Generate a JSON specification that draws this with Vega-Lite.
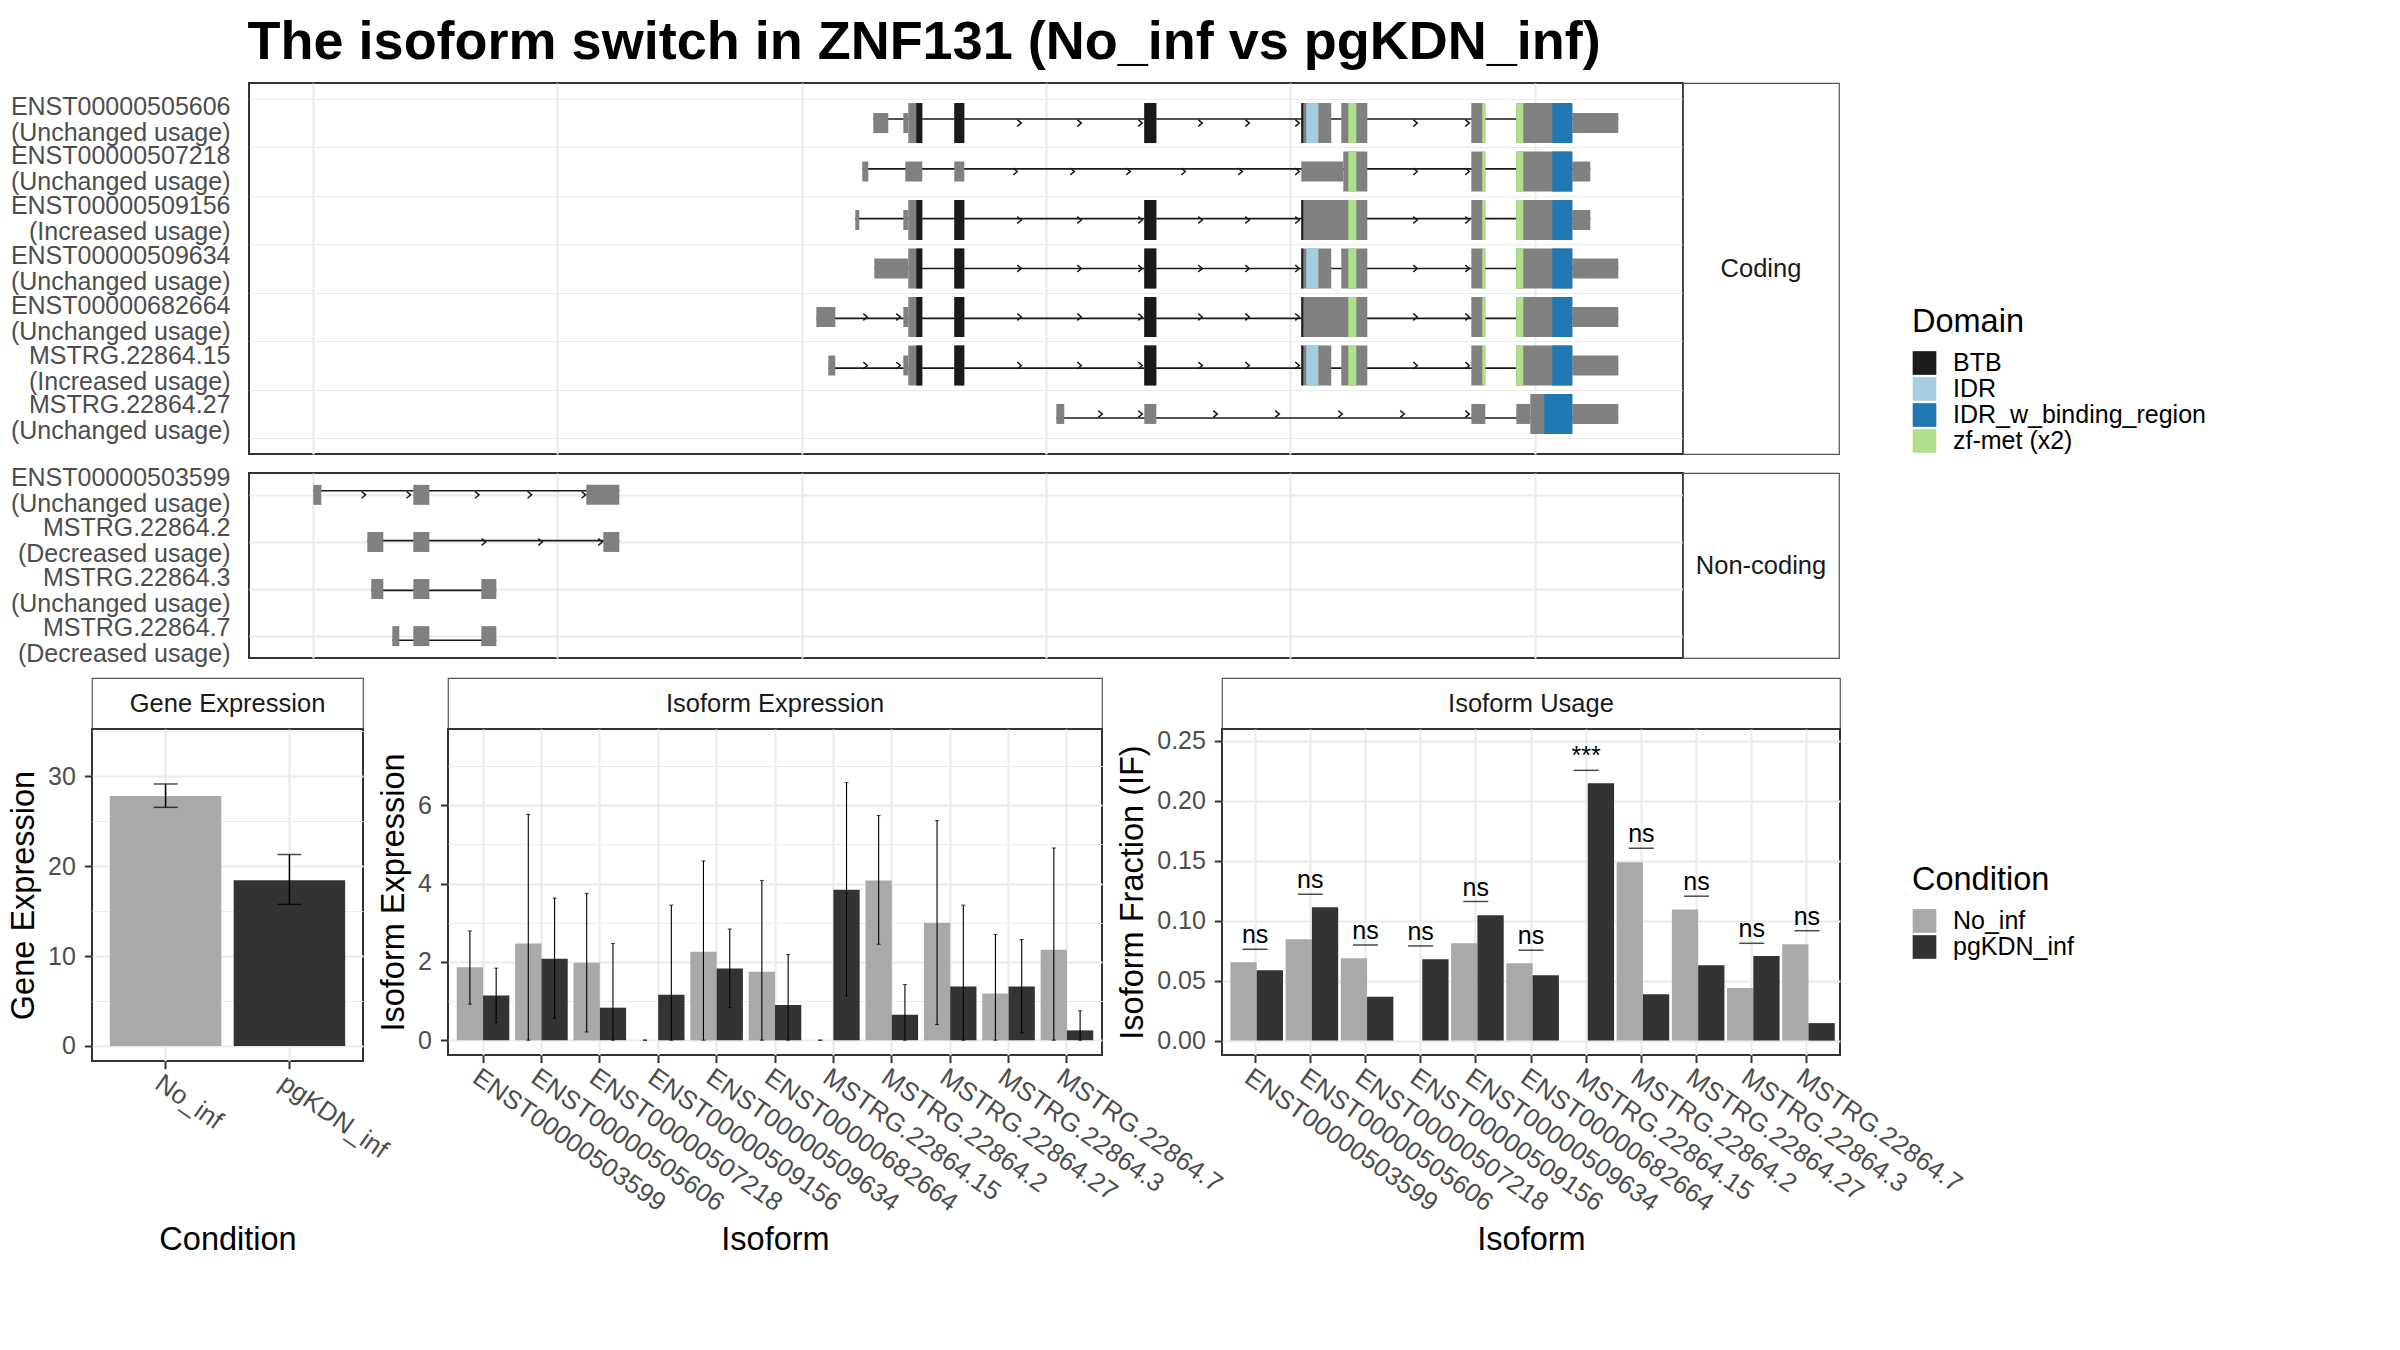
{
"$schema": "https://vega.github.io/schema/vega-lite/v6.json",
"background": "#ffffff",
"padding": {"left": 6, "top": 16, "right": 20, "bottom": 20},
"title": {"text": "The isoform switch in ZNF131 (No_inf vs pgKDN_inf)", "anchor": "start", "dx": 241, "offset": 12, "fontSize": 54, "fontWeight": "bold", "color": "#000000", "font": "Liberation Sans"},
"datasets": {
"txCoding": [
{"row":1,"label":"ENST00000505606 (Unchanged usage)","start":16468,"end":31704},
{"row":2,"label":"ENST00000507218 (Unchanged usage)","start":16243,"end":31131},
{"row":3,"label":"ENST00000509156 (Increased usage)","start":16100,"end":31131},
{"row":4,"label":"ENST00000509634 (Unchanged usage)","start":16489,"end":31704},
{"row":5,"label":"ENST00000682664 (Unchanged usage)","start":15303,"end":31704},
{"row":6,"label":"MSTRG.22864.15 (Increased usage)","start":15548,"end":31704},
{"row":7,"label":"MSTRG.22864.27 (Unchanged usage)","start":20211,"end":31704}
],
"txNoncoding": [
{"row":1,"label":"ENST00000503599 (Unchanged usage)","start":5016,"end":11274},
{"row":2,"label":"MSTRG.22864.2 (Decreased usage)","start":6121,"end":11274},
{"row":3,"label":"MSTRG.22864.3 (Unchanged usage)","start":6202,"end":8759},
{"row":4,"label":"MSTRG.22864.7 (Decreased usage)","start":6632,"end":8759}
],
"exCoding": [
{"row":1,"part":"UTR","start":16468,"end":16775},
{"row":1,"part":"UTR","start":17082,"end":17184},
{"row":1,"part":"CDS","start":17184,"end":17470},
{"row":1,"part":"CDS","start":18125,"end":18329},
{"row":1,"part":"CDS","start":22010,"end":22256},
{"row":1,"part":"CDS","start":25221,"end":25834},
{"row":1,"part":"CDS","start":26039,"end":26571},
{"row":1,"part":"CDS","start":28698,"end":28984},
{"row":1,"part":"CDS","start":29618,"end":30763},
{"row":1,"part":"UTR","start":30763,"end":31704},
{"row":2,"part":"UTR","start":16243,"end":16366},
{"row":2,"part":"UTR","start":17123,"end":17470},
{"row":2,"part":"UTR","start":18125,"end":18329},
{"row":2,"part":"UTR","start":25221,"end":26080},
{"row":2,"part":"CDS","start":26080,"end":26571},
{"row":2,"part":"CDS","start":28698,"end":28984},
{"row":2,"part":"CDS","start":29618,"end":30763},
{"row":2,"part":"UTR","start":30763,"end":31131},
{"row":3,"part":"UTR","start":16100,"end":16182},
{"row":3,"part":"UTR","start":17082,"end":17184},
{"row":3,"part":"CDS","start":17184,"end":17470},
{"row":3,"part":"CDS","start":18125,"end":18329},
{"row":3,"part":"CDS","start":22010,"end":22256},
{"row":3,"part":"CDS","start":25221,"end":26571},
{"row":3,"part":"CDS","start":28698,"end":28984},
{"row":3,"part":"CDS","start":29618,"end":30763},
{"row":3,"part":"UTR","start":30763,"end":31131},
{"row":4,"part":"UTR","start":16489,"end":17184},
{"row":4,"part":"CDS","start":17184,"end":17470},
{"row":4,"part":"CDS","start":18125,"end":18329},
{"row":4,"part":"CDS","start":22010,"end":22256},
{"row":4,"part":"CDS","start":25221,"end":25834},
{"row":4,"part":"CDS","start":26039,"end":26571},
{"row":4,"part":"CDS","start":28698,"end":28984},
{"row":4,"part":"CDS","start":29618,"end":30763},
{"row":4,"part":"UTR","start":30763,"end":31704},
{"row":5,"part":"UTR","start":15303,"end":15691},
{"row":5,"part":"UTR","start":17082,"end":17184},
{"row":5,"part":"CDS","start":17184,"end":17470},
{"row":5,"part":"CDS","start":18125,"end":18329},
{"row":5,"part":"CDS","start":22010,"end":22256},
{"row":5,"part":"CDS","start":25221,"end":26571},
{"row":5,"part":"CDS","start":28698,"end":28984},
{"row":5,"part":"CDS","start":29618,"end":30763},
{"row":5,"part":"UTR","start":30763,"end":31704},
{"row":6,"part":"UTR","start":15548,"end":15691},
{"row":6,"part":"UTR","start":17082,"end":17184},
{"row":6,"part":"CDS","start":17184,"end":17470},
{"row":6,"part":"CDS","start":18125,"end":18329},
{"row":6,"part":"CDS","start":22010,"end":22256},
{"row":6,"part":"CDS","start":25221,"end":25834},
{"row":6,"part":"CDS","start":26039,"end":26571},
{"row":6,"part":"CDS","start":28698,"end":28984},
{"row":6,"part":"CDS","start":29618,"end":30763},
{"row":6,"part":"UTR","start":30763,"end":31704},
{"row":7,"part":"UTR","start":20211,"end":20374},
{"row":7,"part":"UTR","start":22010,"end":22256},
{"row":7,"part":"UTR","start":28698,"end":28984},
{"row":7,"part":"UTR","start":29618,"end":29904},
{"row":7,"part":"CDS","start":29904,"end":30763},
{"row":7,"part":"UTR","start":30763,"end":31704}
],
"domCoding": [
{"row":1,"domain":"BTB","start":17348,"end":17470},
{"row":1,"domain":"BTB","start":18125,"end":18329},
{"row":1,"domain":"BTB","start":22010,"end":22256},
{"row":1,"domain":"BTB","start":25221,"end":25262},
{"row":1,"domain":"IDR","start":25323,"end":25569},
{"row":1,"domain":"zf-met (x2)","start":26182,"end":26346},
{"row":1,"domain":"zf-met (x2)","start":28922,"end":28984},
{"row":1,"domain":"zf-met (x2)","start":29618,"end":29761},
{"row":1,"domain":"IDR_w_binding_region","start":30354,"end":30763},
{"row":2,"domain":"zf-met (x2)","start":26182,"end":26346},
{"row":2,"domain":"zf-met (x2)","start":28922,"end":28984},
{"row":2,"domain":"zf-met (x2)","start":29618,"end":29761},
{"row":2,"domain":"IDR_w_binding_region","start":30354,"end":30763},
{"row":3,"domain":"BTB","start":17348,"end":17470},
{"row":3,"domain":"BTB","start":18125,"end":18329},
{"row":3,"domain":"BTB","start":22010,"end":22256},
{"row":3,"domain":"BTB","start":25221,"end":25262},
{"row":3,"domain":"zf-met (x2)","start":26182,"end":26346},
{"row":3,"domain":"zf-met (x2)","start":28922,"end":28984},
{"row":3,"domain":"zf-met (x2)","start":29618,"end":29761},
{"row":3,"domain":"IDR_w_binding_region","start":30354,"end":30763},
{"row":4,"domain":"BTB","start":17348,"end":17470},
{"row":4,"domain":"BTB","start":18125,"end":18329},
{"row":4,"domain":"BTB","start":22010,"end":22256},
{"row":4,"domain":"BTB","start":25221,"end":25262},
{"row":4,"domain":"IDR","start":25323,"end":25569},
{"row":4,"domain":"zf-met (x2)","start":26182,"end":26346},
{"row":4,"domain":"zf-met (x2)","start":28922,"end":28984},
{"row":4,"domain":"zf-met (x2)","start":29618,"end":29761},
{"row":4,"domain":"IDR_w_binding_region","start":30354,"end":30763},
{"row":5,"domain":"BTB","start":17348,"end":17470},
{"row":5,"domain":"BTB","start":18125,"end":18329},
{"row":5,"domain":"BTB","start":22010,"end":22256},
{"row":5,"domain":"BTB","start":25221,"end":25262},
{"row":5,"domain":"zf-met (x2)","start":26182,"end":26346},
{"row":5,"domain":"zf-met (x2)","start":28922,"end":28984},
{"row":5,"domain":"zf-met (x2)","start":29618,"end":29761},
{"row":5,"domain":"IDR_w_binding_region","start":30354,"end":30763},
{"row":6,"domain":"BTB","start":17348,"end":17470},
{"row":6,"domain":"BTB","start":18125,"end":18329},
{"row":6,"domain":"BTB","start":22010,"end":22256},
{"row":6,"domain":"BTB","start":25221,"end":25262},
{"row":6,"domain":"IDR","start":25323,"end":25569},
{"row":6,"domain":"zf-met (x2)","start":26182,"end":26346},
{"row":6,"domain":"zf-met (x2)","start":28922,"end":28984},
{"row":6,"domain":"zf-met (x2)","start":29618,"end":29761},
{"row":6,"domain":"IDR_w_binding_region","start":30354,"end":30763},
{"row":7,"domain":"IDR_w_binding_region","start":30190,"end":30763}
],
"arCoding": [
{"row":1,"pos":19495},{"row":1,"pos":20722},{"row":1,"pos":21969},{"row":1,"pos":23196},{"row":1,"pos":24158},{"row":1,"pos":25180},{"row":1,"pos":27593},{"row":1,"pos":28657},
{"row":2,"pos":19413},{"row":2,"pos":20579},{"row":2,"pos":21724},{"row":2,"pos":22849},{"row":2,"pos":24014},{"row":2,"pos":25180},{"row":2,"pos":27593},{"row":2,"pos":28657},
{"row":3,"pos":19495},{"row":3,"pos":20722},{"row":3,"pos":21969},{"row":3,"pos":23196},{"row":3,"pos":24158},{"row":3,"pos":25180},{"row":3,"pos":27593},{"row":3,"pos":28657},
{"row":4,"pos":19495},{"row":4,"pos":20722},{"row":4,"pos":21969},{"row":4,"pos":23196},{"row":4,"pos":24158},{"row":4,"pos":25180},{"row":4,"pos":27593},{"row":4,"pos":28657},
{"row":5,"pos":16346},{"row":5,"pos":17020},{"row":5,"pos":19495},{"row":5,"pos":20722},{"row":5,"pos":21969},{"row":5,"pos":23196},{"row":5,"pos":24158},{"row":5,"pos":25180},{"row":5,"pos":27593},{"row":5,"pos":28657},
{"row":6,"pos":16346},{"row":6,"pos":17020},{"row":6,"pos":19495},{"row":6,"pos":20722},{"row":6,"pos":21969},{"row":6,"pos":23196},{"row":6,"pos":24158},{"row":6,"pos":25180},{"row":6,"pos":27593},{"row":6,"pos":28657},
{"row":7,"pos":21151},{"row":7,"pos":21969},{"row":7,"pos":23503},{"row":7,"pos":24771},{"row":7,"pos":26059},{"row":7,"pos":27327},{"row":7,"pos":28657}
],
"exNoncoding": [
{"row":1,"start":5016,"end":5180},{"row":1,"start":7061,"end":7389},{"row":1,"start":10599,"end":11274},
{"row":2,"start":6121,"end":6448},{"row":2,"start":7061,"end":7389},{"row":2,"start":10947,"end":11274},
{"row":3,"start":6202,"end":6448},{"row":3,"start":7061,"end":7389},{"row":3,"start":8452,"end":8759},
{"row":4,"start":6632,"end":6775},{"row":4,"start":7061,"end":7389},{"row":4,"start":8452,"end":8759}
],
"arNoncoding": [
{"row":1,"pos":6086},{"row":1,"pos":7006},{"row":1,"pos":8405},{"row":1,"pos":9481},{"row":1,"pos":10585},
{"row":2,"pos":8540},{"row":2,"pos":9699},{"row":2,"pos":10926}
],
"gene": [
{"Condition":"No_inf","value":27.8,"lo":26.55,"hi":29.15},
{"Condition":"pgKDN_inf","value":18.45,"lo":15.75,"hi":21.3}
],
"iso": [
{"Isoform":"ENST00000503599","Condition":"No_inf","value":1.86,"lo":0.92,"hi":2.79},
{"Isoform":"ENST00000503599","Condition":"pgKDN_inf","value":1.14,"lo":0.45,"hi":1.84},
{"Isoform":"ENST00000505606","Condition":"No_inf","value":2.47,"lo":0,"hi":5.77},
{"Isoform":"ENST00000505606","Condition":"pgKDN_inf","value":2.08,"lo":0.56,"hi":3.63},
{"Isoform":"ENST00000507218","Condition":"No_inf","value":1.98,"lo":0.21,"hi":3.75},
{"Isoform":"ENST00000507218","Condition":"pgKDN_inf","value":0.83,"lo":0,"hi":2.47},
{"Isoform":"ENST00000509156","Condition":"No_inf","value":0,"lo":0,"hi":0},
{"Isoform":"ENST00000509156","Condition":"pgKDN_inf","value":1.16,"lo":0,"hi":3.45},
{"Isoform":"ENST00000509634","Condition":"No_inf","value":2.26,"lo":0,"hi":4.58},
{"Isoform":"ENST00000509634","Condition":"pgKDN_inf","value":1.83,"lo":0.83,"hi":2.84},
{"Isoform":"ENST00000682664","Condition":"No_inf","value":1.75,"lo":0,"hi":4.08},
{"Isoform":"ENST00000682664","Condition":"pgKDN_inf","value":0.9,"lo":0,"hi":2.19},
{"Isoform":"MSTRG.22864.15","Condition":"No_inf","value":0,"lo":0,"hi":0},
{"Isoform":"MSTRG.22864.15","Condition":"pgKDN_inf","value":3.84,"lo":1.13,"hi":6.58},
{"Isoform":"MSTRG.22864.2","Condition":"No_inf","value":4.08,"lo":2.45,"hi":5.74},
{"Isoform":"MSTRG.22864.2","Condition":"pgKDN_inf","value":0.65,"lo":0,"hi":1.42},
{"Isoform":"MSTRG.22864.27","Condition":"No_inf","value":3.0,"lo":0.4,"hi":5.61},
{"Isoform":"MSTRG.22864.27","Condition":"pgKDN_inf","value":1.37,"lo":0,"hi":3.45},
{"Isoform":"MSTRG.22864.3","Condition":"No_inf","value":1.19,"lo":0,"hi":2.7},
{"Isoform":"MSTRG.22864.3","Condition":"pgKDN_inf","value":1.37,"lo":0.19,"hi":2.57},
{"Isoform":"MSTRG.22864.7","Condition":"No_inf","value":2.31,"lo":0,"hi":4.91},
{"Isoform":"MSTRG.22864.7","Condition":"pgKDN_inf","value":0.25,"lo":0,"hi":0.75}
],
"usage": [
{"Isoform":"ENST00000503599","Condition":"No_inf","IF":0.0653},
{"Isoform":"ENST00000503599","Condition":"pgKDN_inf","IF":0.0587},
{"Isoform":"ENST00000505606","Condition":"No_inf","IF":0.0845},
{"Isoform":"ENST00000505606","Condition":"pgKDN_inf","IF":0.1112},
{"Isoform":"ENST00000507218","Condition":"No_inf","IF":0.0687},
{"Isoform":"ENST00000507218","Condition":"pgKDN_inf","IF":0.0367},
{"Isoform":"ENST00000509156","Condition":"No_inf","IF":0},
{"Isoform":"ENST00000509156","Condition":"pgKDN_inf","IF":0.0679},
{"Isoform":"ENST00000509634","Condition":"No_inf","IF":0.0812},
{"Isoform":"ENST00000509634","Condition":"pgKDN_inf","IF":0.1046},
{"Isoform":"ENST00000682664","Condition":"No_inf","IF":0.0645},
{"Isoform":"ENST00000682664","Condition":"pgKDN_inf","IF":0.0545},
{"Isoform":"MSTRG.22864.15","Condition":"No_inf","IF":0},
{"Isoform":"MSTRG.22864.15","Condition":"pgKDN_inf","IF":0.2147},
{"Isoform":"MSTRG.22864.2","Condition":"No_inf","IF":0.1488},
{"Isoform":"MSTRG.22864.2","Condition":"pgKDN_inf","IF":0.0387},
{"Isoform":"MSTRG.22864.27","Condition":"No_inf","IF":0.1094},
{"Isoform":"MSTRG.22864.27","Condition":"pgKDN_inf","IF":0.0629},
{"Isoform":"MSTRG.22864.3","Condition":"No_inf","IF":0.0438},
{"Isoform":"MSTRG.22864.3","Condition":"pgKDN_inf","IF":0.0706},
{"Isoform":"MSTRG.22864.7","Condition":"No_inf","IF":0.0805},
{"Isoform":"MSTRG.22864.7","Condition":"pgKDN_inf","IF":0.0146}
],
"sig": [
{"Isoform":"ENST00000503599","label":"ns","pos":0.0762},
{"Isoform":"ENST00000505606","label":"ns","pos":0.1221},
{"Isoform":"ENST00000507218","label":"ns","pos":0.0798},
{"Isoform":"ENST00000509156","label":"ns","pos":0.079},
{"Isoform":"ENST00000509634","label":"ns","pos":0.116},
{"Isoform":"ENST00000682664","label":"ns","pos":0.0754},
{"Isoform":"MSTRG.22864.15","label":"***","pos":0.2255},
{"Isoform":"MSTRG.22864.2","label":"ns","pos":0.1605},
{"Isoform":"MSTRG.22864.27","label":"ns","pos":0.1205},
{"Isoform":"MSTRG.22864.3","label":"ns","pos":0.0812},
{"Isoform":"MSTRG.22864.7","label":"ns","pos":0.0917}
]
},
"columns": 1,
"align": "none",
"spacing": 9,
"concat": [
{
"hconcat": [
{
"width": 157, "height": 371, "view": {"stroke": null},
"data": {"values": [{"s": 0}]},
"mark": {"type": "point", "opacity": 0},
"encoding": {}
},
{
"width": 1434, "height": 371,
"resolve": {"scale": {"y": "independent"}, "axis": {"y": "independent"}},
"layer": [
{
"data": {"name": "txCoding"},
"mark": {"type": "rule", "color": "#1A1A1A", "strokeWidth": 1.6},
"encoding": {
"x": {"field": "start", "type": "quantitative", "scale": {"domain": [3701, 33027], "nice": false, "zero": false}, "axis": {"title": null, "values": [5000,10000,15000,20000,25000,30000], "labels": false, "ticks": false, "domain": false, "grid": true, "gridWidth": 2.2}},
"x2": {"field": "end"},
"y": {"field": "label", "type": "nominal", "sort": null, "scale": {"type": "point", "padding": 0.723}, "axis": {"title": null, "orient": "left", "ticks": false, "domain": false, "grid": false, "labelExpr": "[slice(datum.label, 0, indexof(datum.label, ' (')), slice(datum.label, indexof(datum.label, ' (') + 1)]", "labelLineHeight": 26, "labelPadding": 19, "labelOffset": -13, "labelLimit": 0, "labelAlign": "right", "labelBaseline": "middle", "labelFontSize": 25, "labelColor": "#4D4D4D"}}
}
},
{
"layer": [
{
"data": {"name": "exCoding"},
"transform": [{"filter": "datum.part == 'UTR'"}],
"mark": {"type": "bar", "orient": "horizontal", "height": 20, "color": "#808080"},
"encoding": {
"x": {"field": "start", "type": "quantitative", "scale": {"domain": [3701, 33027], "nice": false, "zero": false}, "axis": {"title": null, "values": [5000,10000,15000,20000,25000,30000], "labels": false, "ticks": false, "domain": false, "grid": true, "gridWidth": 2.2}},
"x2": {"field": "end"},
"y": {"field": "row", "type": "quantitative", "scale": {"domain": [0.277, 7.723], "reverse": true, "nice": false, "zero": false}, "axis": {"title": null, "orient": "left", "values": [0.5,1,1.5,2,2.5,3,3.5,4,4.5,5,5.5,6,6.5,7,7.5], "labels": false, "ticks": false, "domain": false, "grid": true, "gridWidth": {"condition": {"test": "datum.value % 1 != 0", "value": 1.1}, "value": 2.2}}}
}
},
{
"data": {"name": "exCoding"},
"transform": [{"filter": "datum.part == 'CDS'"}],
"mark": {"type": "bar", "orient": "horizontal", "height": 40, "color": "#808080"},
"encoding": {
"x": {"field": "start", "type": "quantitative"},
"x2": {"field": "end"},
"y": {"field": "row", "type": "quantitative"}
}
},
{
"data": {"name": "domCoding"},
"mark": {"type": "bar", "orient": "horizontal", "height": 40},
"encoding": {
"x": {"field": "start", "type": "quantitative"},
"x2": {"field": "end"},
"y": {"field": "row", "type": "quantitative"},
"fill": {"field": "domain", "type": "nominal", "scale": {"domain": ["BTB", "IDR", "IDR_w_binding_region", "zf-met (x2)"], "range": ["#1A1A1A", "#A6CEE3", "#1F78B4", "#B2DF8A"]}, "legend": {"title": "Domain", "orient": "none", "legendX": 1820, "legendY": 223}}
}
},
{
"data": {"name": "arCoding"},
"mark": {"type": "point", "shape": "M-1.2,-1L0,0L-1.2,1", "filled": false, "size": 45, "color": "#1A1A1A", "strokeWidth": 1.5, "opacity": 1},
"encoding": {
"x": {"field": "pos", "type": "quantitative"},
"y": {"field": "row", "type": "quantitative"}
}
}
]
}
]
},
{
"width": 156, "height": 371,
"view": {"stroke": "#555555", "strokeWidth": 1.2},
"data": {"values": [{"panel": "Coding"}]},
"mark": {"type": "text", "fontSize": 25.5, "color": "#1A1A1A"},
"encoding": {"text": {"field": "panel"}}
}
],
"spacing": 0,
"bounds": "flush"
},
{
"hconcat": [
{
"width": 157, "height": 185, "view": {"stroke": null},
"data": {"values": [{"s": 0}]},
"mark": {"type": "point", "opacity": 0},
"encoding": {}
},
{
"width": 1434, "height": 185,
"resolve": {"scale": {"y": "independent"}, "axis": {"y": "independent"}},
"layer": [
{
"data": {"name": "txNoncoding"},
"mark": {"type": "rule", "color": "#1A1A1A", "strokeWidth": 1.6},
"encoding": {
"x": {"field": "start", "type": "quantitative", "scale": {"domain": [3701, 33027], "nice": false, "zero": false}, "axis": {"title": null, "values": [5000,10000,15000,20000,25000,30000], "labels": false, "ticks": false, "domain": false, "grid": true, "gridWidth": 2.2}},
"x2": {"field": "end"},
"y": {"field": "label", "type": "nominal", "sort": null, "scale": {"type": "point", "padding": 0.358}, "axis": {"title": null, "orient": "left", "ticks": false, "domain": false, "grid": false, "labelExpr": "[slice(datum.label, 0, indexof(datum.label, ' (')), slice(datum.label, indexof(datum.label, ' (') + 1)]", "labelLineHeight": 26, "labelPadding": 19, "labelOffset": -13, "labelLimit": 0, "labelAlign": "right", "labelBaseline": "middle", "labelFontSize": 25, "labelColor": "#4D4D4D"}}
}
},
{
"layer": [
{
"data": {"name": "exNoncoding"},
"mark": {"type": "bar", "orient": "horizontal", "height": 20, "color": "#808080"},
"encoding": {
"x": {"field": "start", "type": "quantitative", "scale": {"domain": [3701, 33027], "nice": false, "zero": false}, "axis": {"title": null, "values": [5000,10000,15000,20000,25000,30000], "labels": false, "ticks": false, "domain": false, "grid": true, "gridWidth": 2.2}},
"x2": {"field": "end"},
"y": {"field": "row", "type": "quantitative", "scale": {"domain": [0.642, 4.358], "reverse": true, "nice": false, "zero": false}, "axis": {"title": null, "orient": "left", "values": [1,1.5,2,2.5,3,3.5,4], "labels": false, "ticks": false, "domain": false, "grid": true, "gridWidth": {"condition": {"test": "datum.value % 1 != 0", "value": 1.1}, "value": 2.2}}}
}
},
{
"data": {"name": "arNoncoding"},
"mark": {"type": "point", "shape": "M-1.2,-1L0,0L-1.2,1", "filled": false, "size": 45, "color": "#1A1A1A", "strokeWidth": 1.5, "opacity": 1},
"encoding": {
"x": {"field": "pos", "type": "quantitative"},
"y": {"field": "row", "type": "quantitative"}
}
}
]
}
]
},
{
"width": 156, "height": 185,
"view": {"stroke": "#555555", "strokeWidth": 1.2},
"data": {"values": [{"panel": "Non-coding"}]},
"mark": {"type": "text", "fontSize": 25.5, "color": "#1A1A1A"},
"encoding": {"text": {"field": "panel"}}
}
],
"spacing": 0,
"bounds": "flush"
},
{
"columns": 5,
"spacing": 0,
"bounds": "flush",
"align": "each",
"concat": [
{
"width": 271, "height": 51,
"view": {"stroke": "#555555", "strokeWidth": 1.2},
"data": {"values": [{"panel": "Gene Expression"}]},
"mark": {"type": "text", "fontSize": 25.5, "color": "#1A1A1A"},
"encoding": {"text": {"field": "panel"}}
},
{
"width": 85, "height": 51, "view": {"stroke": null},
"data": {"values": [{"s": 0}]},
"mark": {"type": "point", "opacity": 0},
"encoding": {}
},
{
"width": 654, "height": 51,
"view": {"stroke": "#555555", "strokeWidth": 1.2},
"data": {"values": [{"panel": "Isoform Expression"}]},
"mark": {"type": "text", "fontSize": 25.5, "color": "#1A1A1A"},
"encoding": {"text": {"field": "panel"}}
},
{
"width": 120, "height": 51, "view": {"stroke": null},
"data": {"values": [{"s": 0}]},
"mark": {"type": "point", "opacity": 0},
"encoding": {}
},
{
"width": 618, "height": 51,
"view": {"stroke": "#555555", "strokeWidth": 1.2},
"data": {"values": [{"panel": "Isoform Usage"}]},
"mark": {"type": "text", "fontSize": 25.5, "color": "#1A1A1A"},
"encoding": {"text": {"field": "panel"}}
},
{
"width": 271, "height": 332,
"data": {"name": "gene"},
"encoding": {
"x": {"field": "Condition", "type": "nominal", "sort": null, "scale": {"paddingInner": 0.1, "paddingOuter": 0.144}, "axis": {"title": "Condition", "labelAngle": 35, "labelAlign": "left", "labelBaseline": "top", "labelFontSize": 26, "labelPadding": 1, "titleY": 188, "titleBaseline": "alphabetic", "grid": true, "gridWidth": 2.2}}
},
"layer": [
{
"mark": {"type": "bar"},
"encoding": {
"y": {"field": "value", "type": "quantitative", "stack": null, "scale": {"domain": [-1.68, 35.27], "nice": false, "zero": false}, "axis": {"title": "Gene Expression", "values": [0,5,10,15,20,25,30,35], "labelExpr": "datum.value % 10 == 0 ? datum.label : ''", "tickOpacity": {"condition": {"test": "datum.value % 10 != 0", "value": 0}, "value": 1}, "grid": true, "gridWidth": {"condition": {"test": "datum.value % 10 != 0", "value": 1.1}, "value": 2.2}}},
"color": {"field": "Condition", "type": "nominal", "scale": {"domain": ["No_inf", "pgKDN_inf"], "range": ["#A9A9A9", "#333333"]}, "legend": {"title": "Condition", "orient": "none", "legendX": 1820, "legendY": 781}}
}
},
{
"mark": {"type": "rule", "color": "#000000", "strokeWidth": 1.5},
"encoding": {"y": {"field": "lo", "type": "quantitative"}, "y2": {"field": "hi"}}
},
{
"mark": {"type": "tick", "orient": "horizontal", "color": "#000000", "thickness": 1.5, "size": 24},
"encoding": {"y": {"field": "lo", "type": "quantitative"}}
},
{
"mark": {"type": "tick", "orient": "horizontal", "color": "#000000", "thickness": 1.5, "size": 24},
"encoding": {"y": {"field": "hi", "type": "quantitative"}}
}
]
},
{
"width": 85, "height": 10, "view": {"stroke": null},
"data": {"values": [{"s": 0}]},
"mark": {"type": "point", "opacity": 0},
"encoding": {}
},
{
"width": 654, "height": 326,
"data": {"name": "iso"},
"encoding": {
"x": {"field": "Isoform", "type": "nominal", "sort": null, "scale": {"paddingInner": 0, "paddingOuter": 0.1}, "axis": {"title": "Isoform", "labelAngle": 35, "labelAlign": "left", "labelBaseline": "top", "labelFontSize": 26, "labelPadding": 1, "titleY": 194, "titleBaseline": "alphabetic", "grid": true, "gridWidth": 2.2}},
"xOffset": {"field": "Condition", "type": "nominal", "sort": null, "scale": {"paddingInner": 0, "paddingOuter": 0.111}}
},
"layer": [
{
"mark": {"type": "bar"},
"encoding": {
"y": {"field": "value", "type": "quantitative", "stack": null, "scale": {"domain": [-0.379, 7.95], "nice": false, "zero": false}, "axis": {"title": "Isoform Expression", "values": [0,1,2,3,4,5,6,7], "labelExpr": "datum.value % 2 == 0 ? datum.label : ''", "tickOpacity": {"condition": {"test": "datum.value % 2 != 0", "value": 0}, "value": 1}, "grid": true, "gridWidth": {"condition": {"test": "datum.value % 2 != 0", "value": 1.1}, "value": 2.2}}},
"color": {"field": "Condition", "type": "nominal", "scale": {"domain": ["No_inf", "pgKDN_inf"], "range": ["#A9A9A9", "#333333"]}, "legend": {"title": "Condition", "orient": "none", "legendX": 1820, "legendY": 781}}
}
},
{
"mark": {"type": "rule", "color": "#000000", "strokeWidth": 1.1},
"encoding": {"y": {"field": "lo", "type": "quantitative"}, "y2": {"field": "hi"}}
},
{
"mark": {"type": "tick", "orient": "horizontal", "color": "#000000", "thickness": 1.1, "size": 4},
"encoding": {"y": {"field": "lo", "type": "quantitative"}}
},
{
"mark": {"type": "tick", "orient": "horizontal", "color": "#000000", "thickness": 1.1, "size": 4},
"encoding": {"y": {"field": "hi", "type": "quantitative"}}
}
]
},
{
"width": 120, "height": 10, "view": {"stroke": null},
"data": {"values": [{"s": 0}]},
"mark": {"type": "point", "opacity": 0},
"encoding": {}
},
{
"width": 618, "height": 326,
"encoding": {
"x": {"field": "Isoform", "type": "nominal", "sort": null, "scale": {"paddingInner": 0, "paddingOuter": 0.1}, "axis": {"title": "Isoform", "labelAngle": 35, "labelAlign": "left", "labelBaseline": "top", "labelFontSize": 26, "labelPadding": 1, "titleY": 194, "titleBaseline": "alphabetic", "grid": true, "gridWidth": 2.2}}
},
"layer": [
{
"data": {"name": "usage"},
"mark": {"type": "bar"},
"encoding": {
"xOffset": {"field": "Condition", "type": "nominal", "sort": null, "scale": {"paddingInner": 0, "paddingOuter": 0.111}},
"y": {"field": "IF", "type": "quantitative", "stack": null, "scale": {"domain": [-0.012, 0.26], "nice": false, "zero": false}, "axis": {"title": "Isoform Fraction (IF)", "values": [0,0.025,0.05,0.075,0.1,0.125,0.15,0.175,0.2,0.225,0.25], "format": ".2f", "labelExpr": "abs(datum.value*20 - round(datum.value*20)) < 0.01 ? datum.label : ''", "tickOpacity": {"condition": {"test": "abs(datum.value*20 - round(datum.value*20)) > 0.01", "value": 0}, "value": 1}, "grid": true, "gridWidth": {"condition": {"test": "abs(datum.value*20 - round(datum.value*20)) > 0.01", "value": 1.1}, "value": 2.2}}},
"color": {"field": "Condition", "type": "nominal", "scale": {"domain": ["No_inf", "pgKDN_inf"], "range": ["#A9A9A9", "#333333"]}, "legend": {"title": "Condition", "orient": "none", "legendX": 1820, "legendY": 781}}
}
},
{
"data": {"name": "sig"},
"mark": {"type": "tick", "orient": "horizontal", "color": "#000000", "thickness": 1.5, "size": 25},
"encoding": {"y": {"field": "pos", "type": "quantitative"}}
},
{
"data": {"name": "sig"},
"mark": {"type": "text", "fontSize": 25, "color": "#000000", "baseline": "alphabetic", "dy": -6},
"encoding": {"y": {"field": "pos", "type": "quantitative"}, "text": {"field": "label"}}
}
]
}
]
}
],
"config": {
"font": "Liberation Sans",
"view": {"stroke": "#333333", "strokeWidth": 2},
"axis": {"labelFontSize": 25, "labelColor": "#4D4D4D", "titleFontSize": 32.5, "titleFontWeight": "normal", "titleColor": "#000000", "tickColor": "#333333", "tickWidth": 2, "tickSize": 7.6, "domain": false, "gridColor": "#EBEBEB", "labelPadding": 9, "titlePadding": 7, "labelOverlap": false, "labelFlush": false, "labelLimit": 0},
"legend": {"titleFontSize": 32.5, "titleFontWeight": "normal", "titleColor": "#000000", "labelFontSize": 25, "labelColor": "#000000", "labelLimit": 0, "symbolType": "square", "symbolSize": 560, "symbolStrokeWidth": 0, "symbolOpacity": 1, "rowPadding": 0, "labelOffset": 16, "titlePadding": 12, "padding": 0},
"text": {"font": "Liberation Sans"}
}
}
